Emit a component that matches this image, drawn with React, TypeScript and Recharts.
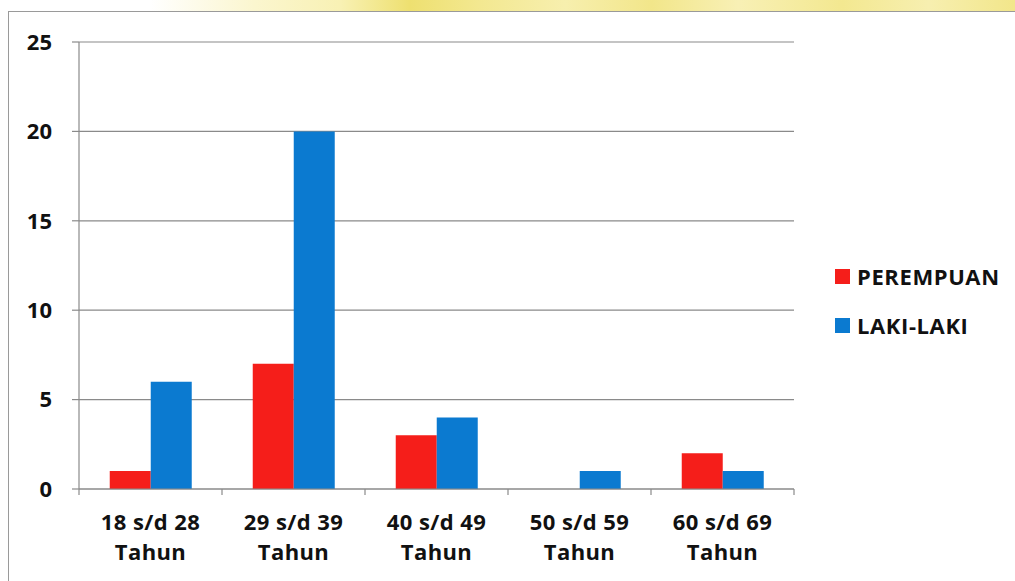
import React from "react";
import { BarChart, Bar, XAxis, YAxis, CartesianGrid } from "recharts";

const categories = ["18 s/d 28\nTahun", "29 s/d 39\nTahun", "40 s/d 49\nTahun", "50 s/d 59\nTahun", "60 s/d 69\nTahun"];
const perempuan = [1, 7, 3, 0, 2];
const lakiLaki = [6, 20, 4, 1, 1];
const yTicks = [0, 5, 10, 15, 20, 25];
const seriesNames = ["PEREMPUAN", "LAKI-LAKI"];
const colors = ["#f51e1a", "#0b7ad0"];

const data = categories.map((c, i) => ({ name: c, p: perempuan[i], l: lakiLaki[i] }));

const FONT = "'Open Sans', sans-serif";
const AXIS = "#8a8a8a";

const XTick = (props: any) => {
  const { x, y, payload, index, visibleTicksCount } = props;
  const half = payload && typeof payload.offset === "number" ? payload.offset : 71.5;
  const lines = String(payload.value).split("\n");
  const axisY = y - 2;
  return (
    <g>
      <line x1={x - half} x2={x - half} y1={axisY} y2={axisY + 6} stroke={AXIS} strokeWidth={1.2} />
      {index === visibleTicksCount - 1 && (
        <line x1={x + half} x2={x + half} y1={axisY} y2={axisY + 6} stroke={AXIS} strokeWidth={1.2} />
      )}
      <text x={x} y={y} textAnchor="middle" fontFamily={FONT} fontWeight={700} fontSize={22} letterSpacing={0.4} fill="#111">
        {lines.map((ln, i) => (
          <tspan key={i} x={x} dy={i === 0 ? 39 : 30}>
            {ln}
          </tspan>
        ))}
      </text>
    </g>
  );
};

export default function App() {
  return (
    <div style={{ position: "absolute", left: 0, top: 0, width: 1015, height: 581, background: "#fff", overflow: "hidden" }}>
      <div
        style={{
          position: "absolute",
          left: 150,
          top: 0,
          width: 865,
          height: 11,
          background:
            "linear-gradient(90deg, rgba(252,248,200,0) 0%, #fbf6cf 12%, #f8f1b4 22%, #eee070 30%, #f3e890 38%, #f7efae 48%, #f2e68a 58%, #f8f0b5 68%, #f3e890 80%, #f7efb0 90%, #f2e68a 100%)",
        }}
      />
      <div
        style={{
          position: "absolute",
          left: 8,
          top: 11,
          width: 1020,
          height: 600,
          borderLeft: "1.5px solid #9a9a9a",
          borderTop: "1.5px solid #9a9a9a",
        }}
      />
      <div style={{ position: "absolute", left: 0, top: 0 }}>
        <BarChart
          width={1015}
          height={581}
          data={data}
          margin={{ top: 42, right: 221, bottom: 0, left: 0 }}
          barCategoryGap="21.5%"
          barGap={0}
        >
          <CartesianGrid vertical={false} stroke={AXIS} strokeWidth={1.2} />
          <XAxis
            dataKey="name"
            height={92}
            tickLine={false}
            axisLine={{ stroke: AXIS, strokeWidth: 1.2 }}
            tick={<XTick />}
            tickSize={0}
            tickMargin={2}
            interval={0}
          />
          <YAxis
            width={79}
            domain={[0, 25]}
            ticks={yTicks}
            interval={0}
            tickSize={7}
            tickMargin={20}
            axisLine={{ stroke: AXIS, strokeWidth: 1.2 }}
            tickLine={{ stroke: AXIS, strokeWidth: 1.2 }}
            tick={{ fontFamily: FONT, fontWeight: 700, fontSize: 22, fill: "#111" }}
          />
          <Bar dataKey="p" name={seriesNames[0]} fill={colors[0]} isAnimationActive={false} />
          <Bar dataKey="l" name={seriesNames[1]} fill={colors[1]} isAnimationActive={false} />
        </BarChart>
      </div>
      <div
        style={{
          position: "absolute",
          left: 835,
          top: 261,
          fontFamily: FONT,
          fontWeight: 700,
          fontSize: 22,
          letterSpacing: 0.6,
          color: "#111",
        }}
      >
        {seriesNames.map((n, i) => (
          <div key={n} style={{ display: "flex", alignItems: "center", height: 30, marginBottom: i === 0 ? 19 : 0 }}>
            <div style={{ width: 15, height: 15, background: colors[i], marginRight: 7 }} />
            <span>{n}</span>
          </div>
        ))}
      </div>
    </div>
  );
}
